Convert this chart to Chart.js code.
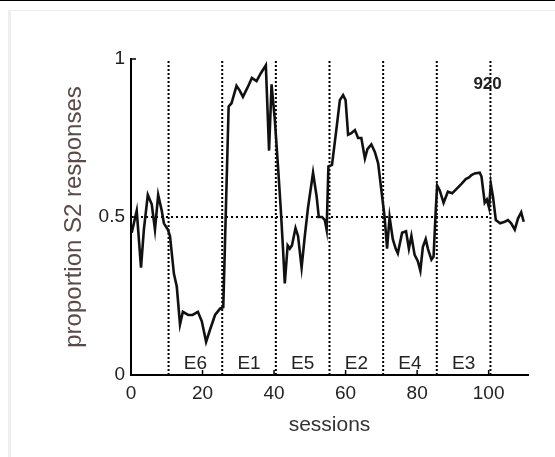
<!DOCTYPE html>
<html>
<head>
<meta charset="utf-8">
<script src="https://cdn.jsdelivr.net/npm/chart.js@4/dist/chart.umd.min.js"></script>
<style>
  html, body { margin: 0; padding: 0; background: #fff; }
  #wrap { position: relative; width: 555px; height: 457px; overflow: hidden; }
  #topline { position: absolute; left: 0; top: 0; width: 555px; height: 1px; background: #000; }
  #frame { position: absolute; left: 8px; top: 10px; right: 0; bottom: 0; border-left: 3px solid #eee; border-top: 1px solid #f0f0f0; }
  canvas { position: absolute; left: 0; top: 0; }
</style>
</head>
<body>
<div id="wrap">
  <div id="topline"></div>
  <div id="frame"></div>
  <canvas id="c" width="555" height="457"></canvas>
</div>
<script>
// session number / proportion of S2 responses
const sessions = [
  0.2, 1.6, 2.8, 3.6, 4.7, 5.8, 6.7, 7.6, 8.6, 9.2,
  10.3, 10.9, 12, 12.8, 13.7, 14.5, 16, 17.2, 18.7, 19.8,
  21, 22, 23.5, 24.9, 25.8, 27.3, 28.1, 29.5, 30.4, 31.3,
  32.6, 33.8, 35.1, 36.3, 37.7, 38.6, 39.3, 40.2, 41.1, 41.9,
  42.5, 43, 43.8, 44.4, 45, 46, 46.7, 47.7, 48.6, 49.5,
  50.9, 51.9, 52.5, 53.4, 54.2, 54.7, 55.2, 56.2, 57.4, 58.4,
  59.3, 60, 60.7, 61.6, 62.6, 63.5, 64.4, 65.4, 66.1, 67.2,
  68.2, 69.1, 70, 70.9, 71.6, 72.3, 73.2, 74, 74.6, 75.8,
  76.9, 77.7, 78.4, 79.3, 80.2, 80.9, 81.6, 82.4, 83, 84,
  84.6, 85.2, 85.6, 86.3, 87.4, 88.6, 89.8, 91.1, 92.4, 93.6,
  94.5, 95.2, 96.1, 97.5, 98, 98.9, 99.5, 100.1, 100.6, 101.2,
  102, 103.2, 104.5, 105.4, 106.3, 107.3, 108.2, 109.1, 109.8
];
const proportions = [
  0.45, 0.52, 0.34, 0.46, 0.57, 0.54, 0.46, 0.57, 0.52, 0.48,
  0.46, 0.44, 0.32, 0.28, 0.16, 0.2, 0.19, 0.19, 0.2, 0.17,
  0.105, 0.14, 0.19, 0.21, 0.215, 0.85, 0.86, 0.915, 0.9, 0.88,
  0.91, 0.94, 0.93, 0.955, 0.98, 0.71, 0.92, 0.81, 0.66, 0.52,
  0.4, 0.29, 0.41, 0.40, 0.41, 0.465, 0.44, 0.34, 0.44, 0.53,
  0.64, 0.565, 0.5, 0.5, 0.49, 0.46, 0.66, 0.665, 0.775, 0.87,
  0.886, 0.87, 0.76, 0.765, 0.775, 0.75, 0.75, 0.685, 0.715, 0.73,
  0.705, 0.67, 0.585, 0.5, 0.40, 0.50, 0.43, 0.40, 0.385, 0.45,
  0.455, 0.40, 0.44, 0.38, 0.36, 0.33, 0.405, 0.43, 0.40, 0.365,
  0.375, 0.52, 0.60, 0.585, 0.545, 0.58, 0.575, 0.59, 0.605, 0.62,
  0.625, 0.633, 0.638, 0.64, 0.628, 0.545, 0.555, 0.53, 0.605, 0.565,
  0.49, 0.48, 0.485, 0.49, 0.48, 0.46, 0.495, 0.515, 0.485
];

const blockEdges = [10.5, 25.5, 40.5, 55.5, 70.5, 85.5, 100.5];
const blockLabels = ["E6", "E1", "E5", "E2", "E4", "E3"];
const xTicks = [0, 20, 40, 60, 80, 100];
const yTicks = [0, 0.5, 1];
const chanceLevel = 0.5;
const subjectId = "920";

const FONT = "'Liberation Sans', Arial, sans-serif";

const points = sessions.map((s, i) => ({ x: s, y: proportions[i] }));

const datasets = [{
  data: points,
  borderColor: "#111",
  borderWidth: 2.6,
  pointRadius: 0,
  tension: 0,
}];

// dotted block dividers
blockEdges.forEach(e => {
  datasets.push({
    data: [{ x: e, y: 0 }, { x: e, y: 1 }],
    borderColor: "#000",
    borderWidth: 2,
    borderDash: [2, 2],
    pointRadius: 0,
  });
});

// dotted chance line
datasets.push({
  data: [{ x: 0, y: chanceLevel }, { x: blockEdges[blockEdges.length - 1], y: chanceLevel }],
  borderColor: "#000",
  borderWidth: 2,
  borderDash: [2, 3],
  pointRadius: 0,
});

const extras = {
  id: "extras",
  afterDraw(chart) {
    const { ctx, chartArea: a, scales: { x, y } } = chart;
    ctx.save();
    // inward tick marks
    ctx.strokeStyle = "#000";
    ctx.lineWidth = 1.5;
    ctx.beginPath();
    xTicks.forEach(v => {
      const px = x.getPixelForValue(v);
      ctx.moveTo(px, a.bottom);
      ctx.lineTo(px, a.bottom - 5);
    });
    yTicks.forEach(v => {
      const py = y.getPixelForValue(v);
      ctx.moveTo(a.left, py);
      ctx.lineTo(a.left + 5, py);
    });
    ctx.stroke();

    // block names
    ctx.fillStyle = "#222";
    ctx.font = "19px " + FONT;
    ctx.textAlign = "center";
    ctx.textBaseline = "middle";
    blockLabels.forEach((lab, i) => {
      const cx = x.getPixelForValue((blockEdges[i] + blockEdges[i + 1]) / 2);
      ctx.fillText(lab, cx, y.getPixelForValue(0.036));
    });

    // subject id
    ctx.font = "bold 17px " + FONT;
    ctx.fillText(subjectId, x.getPixelForValue(99.7), y.getPixelForValue(0.92));
    ctx.restore();
  }
};

new Chart(document.getElementById("c"), {
  type: "line",
  data: { datasets },
  plugins: [extras],
  options: {
    responsive: false,
    animation: false,
    layout: { padding: { left: 56, top: 59, right: 27, bottom: 15 } },
    plugins: { legend: { display: false }, tooltip: { enabled: false } },
    scales: {
      x: {
        type: "linear",
        min: 0,
        max: 111,
        afterBuildTicks: s => { s.ticks = xTicks.map(v => ({ value: v })); },
        afterFit: s => { s.height = 67; },
        grid: { display: false, drawTicks: false },
        border: { display: true, color: "#000", width: 2 },
        ticks: { color: "#222", font: { family: FONT, size: 19 }, padding: 7, maxRotation: 0, callback: v => String(v) },
        title: { display: true, text: "sessions", color: "#333", font: { family: FONT, size: 21 } },
      },
      y: {
        min: 0,
        max: 1,
        afterBuildTicks: s => { s.ticks = yTicks.map(v => ({ value: v })); },
        afterFit: s => { s.width = 75; },
        grid: { display: false, drawTicks: false },
        border: { display: true, color: "#000", width: 2 },
        ticks: { color: "#222", font: { family: FONT, size: 19 }, padding: 6, callback: v => String(v) },
        title: { display: true, text: "proportion S2 responses", color: "#5a4b47", font: { family: FONT, size: 24 } },
      },
    },
  },
});
</script>
</body>
</html>
